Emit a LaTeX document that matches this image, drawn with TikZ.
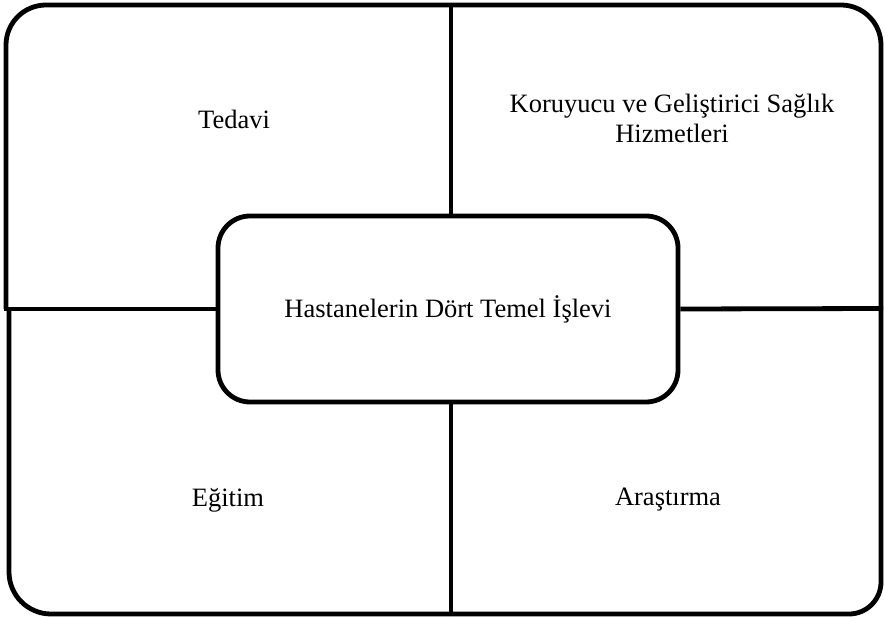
\documentclass[tikz,border=0pt]{standalone}
\usepackage{fontspec}
\setmainfont{Liberation Serif}
\begin{document}
\begin{tikzpicture}[x=1pt,y=-1pt,
  edge/.style={line width=4.8pt,line cap=butt,line join=round},
  label/.style={font=\fontsize{26.5}{30}\selectfont,align=center,inner sep=0pt},
  hub/.style={draw,line width=4.8pt,rounded corners=32pt,minimum width=460pt,minimum height=186pt,font=\fontsize{26.5}{30}\selectfont}]
\useasboundingbox (0,0) rectangle (885,617);
% outer frame pieces
\coordinate (tl) at (6,309);
\coordinate (tm) at (451,5);
\coordinate (bl) at (9,309);
\coordinate (bm) at (451,614);
\coordinate (rm) at (881,308.5);
\draw[edge,rounded corners=40pt] (tl) -- (6,5) -- (tm);
\draw[edge,rounded corners=40pt] (tm) -- (881,5) -- (rm);
\draw[edge,rounded corners=42pt] (bl) -- (9,614) -- (bm);
\draw[edge,rounded corners=32pt] (bm) -- (881,614) -- (rm);
% center
\node[hub] (c) at (448,309) {Hastanelerin Dört Temel İşlevi};
\coordinate (lm) at (4,309);
\draw[edge] (c.west) -- (lm);
\draw[edge] (c.east) -- (883,308.5) coordinate (rr);
\draw[edge] (451,5) -- (451,216) coordinate (ct);
\draw[edge] (451,402) coordinate (cb) -- (bm);
% labels
\node[label] (t1) at (234,119) {Tedavi};
\node[label] (t2) at (672,118) {Koruyucu ve Geliştirici Sağlık\\Hizmetleri};
\node[label] (t3) at (228,500) {Eğitim};
\node[label] (t4) at (668,500) {Araştırma};
\end{tikzpicture}
\end{document}
